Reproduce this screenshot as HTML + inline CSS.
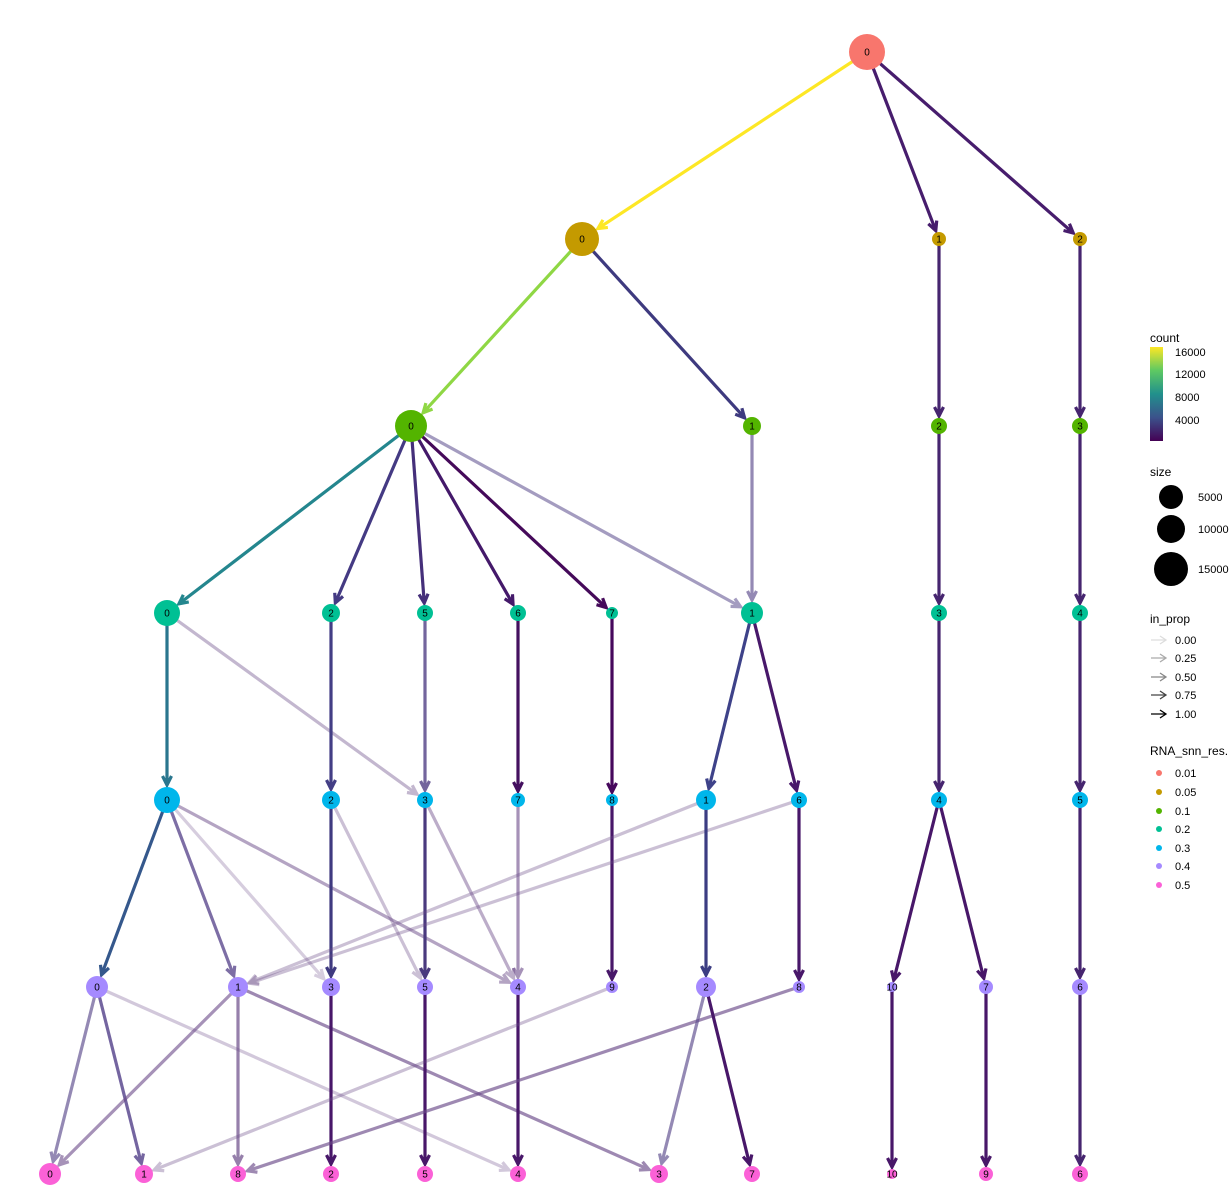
<!DOCTYPE html>
<html><head><meta charset="utf-8"><style>
html,body{margin:0;padding:0;background:#fff;}
svg{display:block;font-family:"Liberation Sans",sans-serif;}
</style></head><body>
<svg id="s" width="1231" height="1201" viewBox="0 0 1231 1201" xmlns="http://www.w3.org/2000/svg">
<defs>
<linearGradient id="vir" x1="0" y1="1" x2="0" y2="0">
<stop offset="0" stop-color="#440154"/><stop offset="0.25" stop-color="#3b528b"/>
<stop offset="0.5" stop-color="#21908c"/><stop offset="0.75" stop-color="#5ec962"/>
<stop offset="1" stop-color="#fde725"/></linearGradient>
</defs>
<g id="edges"></g><g id="nodes"></g>
<g font-size="11" fill="#000">
<text x="1150" y="342" font-size="12">count</text>
<rect x="1150" y="347" width="13" height="94" fill="url(#vir)"/>
<text x="1175" y="356">16000</text><text x="1175" y="378">12000</text>
<text x="1175" y="401">8000</text><text x="1175" y="424">4000</text>
<text x="1150" y="476" font-size="12">size</text>
<circle cx="1171" cy="497" r="12"/><circle cx="1171" cy="529" r="14"/><circle cx="1171" cy="569" r="17"/>
<text x="1198" y="501">5000</text><text x="1198" y="533">10000</text><text x="1198" y="573">15000</text>
<text x="1150" y="623" font-size="12">in_prop</text>
<g fill="none" stroke-width="1.3">
<path d="M1151 640H1166M1160 636L1166 640L1160 644" stroke="#ddd"/>
<path d="M1151 658H1166M1160 654L1166 658L1160 662" stroke="#aaa"/>
<path d="M1151 677H1166M1160 673L1166 677L1160 681" stroke="#888"/>
<path d="M1151 695H1166M1160 691L1166 695L1160 699" stroke="#444"/>
<path d="M1151 714H1166M1160 710L1166 714L1160 718" stroke="#000"/>
</g>
<text x="1175" y="644">0.00</text><text x="1175" y="662">0.25</text><text x="1175" y="681">0.50</text>
<text x="1175" y="699">0.75</text><text x="1175" y="718">1.00</text>
<text x="1150" y="755" font-size="12">RNA_snn_res.</text>
<circle cx="1159" cy="773" r="3" fill="#F8766D"/><circle cx="1159" cy="792" r="3" fill="#C49A00"/>
<circle cx="1159" cy="811" r="3" fill="#53B400"/><circle cx="1159" cy="829" r="3" fill="#00C094"/>
<circle cx="1159" cy="848" r="3" fill="#00B6EB"/><circle cx="1159" cy="866" r="3" fill="#A58AFF"/>
<circle cx="1159" cy="885" r="3" fill="#FB61D7"/>
<text x="1175" y="777">0.01</text><text x="1175" y="796">0.05</text><text x="1175" y="815">0.1</text>
<text x="1175" y="833">0.2</text><text x="1175" y="852">0.3</text><text x="1175" y="870">0.4</text>
<text x="1175" y="889">0.5</text>
</g>
</svg>
<script>
var Y=[52,239,426,613,800,987,1174];
var C=["#F8766D","#C49A00","#53B400","#00C094","#00B6EB","#A58AFF","#FB61D7"];
var N={};
function n(r,id,x,rad){N[r+"-"+id]={x:x,y:Y[r],r:rad,c:C[r],l:id};}
n(0,0,867,18);
n(1,0,582,17);n(1,1,939,7);n(1,2,1080,7);
n(2,0,411,16);n(2,1,752,9);n(2,2,939,8);n(2,3,1080,8);
n(3,0,167,13);n(3,2,331,9);n(3,5,425,8);n(3,6,518,8);n(3,7,612,6);n(3,1,752,11);n(3,3,939,8);n(3,4,1080,8);
n(4,0,167,13);n(4,2,331,9);n(4,3,425,8);n(4,7,518,7);n(4,8,612,6);n(4,1,706,10);n(4,6,799,8);n(4,4,939,8);n(4,5,1080,8);
n(5,0,97,11);n(5,1,238,10);n(5,3,331,9);n(5,5,425,8);n(5,4,518,8);n(5,9,612,6);n(5,2,706,10);n(5,8,799,6);n(5,10,892,5);n(5,7,986,7);n(5,6,1080,8);
n(6,0,50,11);n(6,1,144,9);n(6,8,238,8);n(6,2,331,8);n(6,5,425,8);n(6,4,518,8);n(6,3,659,9);n(6,7,752,8);n(6,10,892,5);n(6,9,986,7);n(6,6,1080,8);
var D="#481769";
var E=[
[0,0,0,"#fde725",1],[0,0,1,"#471d6d",1],[0,0,2,"#471d6d",1],
[1,0,0,"#8fd744",1],[1,0,1,"#3e3a7f",1],[1,1,2,"#46256f",1],[1,2,3,"#46256f",1],
[2,0,0,"#24868e",1],[2,0,2,"#443a83",1],[2,0,5,"#452f7a",1],[2,0,6,"#44196a",1],[2,0,7,"#450a5a",1],[2,0,1,"#5a4a8c",0.55],[2,1,1,"#5a4a8c",0.65],[2,2,3,"#46256f",1],[2,3,4,"#46256f",1],
[3,0,0,"#2a768e",1],[3,0,3,"#6a4a88",0.4],[3,2,2,"#433e85",1],[3,5,3,"#5a4a8c",0.85],[3,6,7,"#44105f",1],[3,7,8,"#46085c",1],[3,1,1,"#3e4289",1],[3,1,6,"#48186a",1],[3,3,4,"#46256f",1],[3,4,5,"#46256f",1],
[4,0,0,"#35588c",1],[4,0,1,"#5c4a8f",0.8],[4,0,3,"#6a4a88",0.28],[4,0,4,"#6a4a88",0.5],[4,2,3,"#3f3a80",1],[4,2,5,"#6a4a88",0.35],[4,3,5,"#4a3a7e",1],[4,3,4,"#6a4a88",0.45],[4,7,4,"#6a4a88",0.6],[4,8,9,D,1],[4,1,1,"#6a4a88",0.35],[4,6,1,"#6a4a88",0.35],[4,1,2,"#3b3c82",1],[4,6,8,D,1],[4,4,10,D,1],[4,4,7,D,1],[4,5,6,"#46256f",1],
[5,0,0,"#5a4a8c",0.65],[5,0,1,"#5c4a8f",0.85],[5,0,4,"#6a4a88",0.3],[5,1,0,"#6a4a88",0.6],[5,1,8,"#6a4a88",0.7],[5,1,3,"#6a4a88",0.65],[5,3,2,D,1],[5,5,5,D,1],[5,4,4,D,1],[5,9,1,"#6a4a88",0.35],[5,8,8,"#6a4a88",0.65],[5,2,3,"#5a4a8c",0.65],[5,2,7,D,1],[5,10,10,D,1],[5,7,9,D,1],[5,6,6,"#46256f",1]
];
var ns="http://www.w3.org/2000/svg",eg=document.getElementById("edges"),ng=document.getElementById("nodes");
E.forEach(function(e){
 var a=N[e[0]+"-"+e[1]],b=N[(e[0]+1)+"-"+e[2]];
 var dx=b.x-a.x,dy=b.y-a.y,L=Math.sqrt(dx*dx+dy*dy),ux=dx/L,uy=dy/L;
 var ex=b.x-ux*(b.r+2),ey=b.y-uy*(b.r+2);
 var h=9,w=4.5,bx=ex-ux*h,by=ey-uy*h;
 var p=document.createElementNS(ns,"path");
 p.setAttribute("d","M"+a.x+" "+a.y+"L"+ex+" "+ey+"M"+(bx-uy*w)+" "+(by+ux*w)+"L"+ex+" "+ey+"L"+(bx+uy*w)+" "+(by-ux*w));
 p.setAttribute("stroke",e[3]);p.setAttribute("stroke-opacity",e[4]);p.setAttribute("stroke-width","3.2");
 p.setAttribute("fill","none");p.setAttribute("stroke-linejoin","miter");
 eg.appendChild(p);
});
Object.keys(N).forEach(function(k){
 var o=N[k],c=document.createElementNS(ns,"circle");
 c.setAttribute("cx",o.x);c.setAttribute("cy",o.y);c.setAttribute("r",o.r);c.setAttribute("fill",o.c);ng.appendChild(c);
 var t=document.createElementNS(ns,"text");
 t.setAttribute("x",o.x);t.setAttribute("y",o.y+3.5);t.setAttribute("text-anchor","middle");t.setAttribute("font-size","10");
 t.textContent=o.l;ng.appendChild(t);
});
</script>
</body></html>
